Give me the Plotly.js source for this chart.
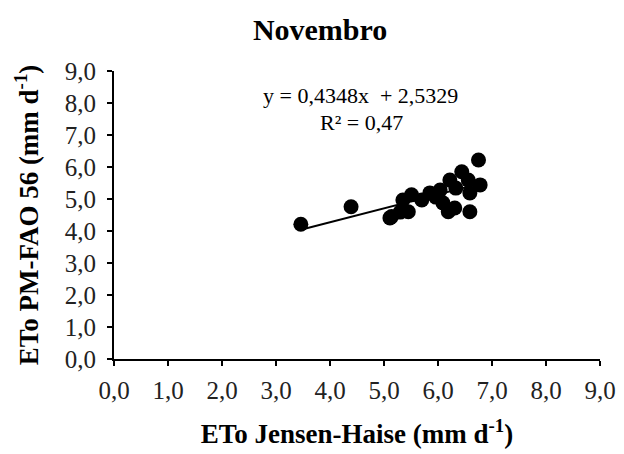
<!DOCTYPE html>
<html>
<head>
<meta charset="utf-8">
<script src="https://cdn.plot.ly/plotly-3.0.1.min.js"></script>
<style>
  html, body { margin: 0; padding: 0; background: #fff; }
  #chart { width: 624px; height: 454px; }
</style>
</head>
<body>
<div id="chart"></div>
<script>
// Daily ETo, November: Jensen-Haise (x) vs PM-FAO 56 (y), mm/day
const etoJensenHaise = [3.46, 4.39, 5.14, 5.11, 5.30, 5.45, 5.35, 5.51, 5.70, 5.85, 5.96,
                        6.04, 6.09, 6.19, 6.31, 6.22, 6.44, 6.56, 6.78, 6.59, 6.59, 6.75, 6.33];
const etoPmFao56     = [4.21, 4.76, 4.45, 4.41, 4.59, 4.60, 4.97, 5.13, 4.97, 5.19, 5.06,
                        5.28, 4.88, 4.60, 4.72, 5.59, 5.85, 5.59, 5.44, 5.19, 4.60, 6.22, 5.34];

// Linear trend line as printed on the chart
const slope = 0.4348;
const intercept = 2.5329;
const rSquared = 0.47;

const tickVals = [0, 1, 2, 3, 4, 5, 6, 7, 8, 9];

const xMin = Math.min(...etoJensenHaise);
const xMax = Math.max(...etoJensenHaise);
const trendX = [xMin, xMax];
const trendY = trendX.map(v => slope * v + intercept);

const fmt = (v, d) => v.toFixed(d).replace('.', ',');

const serif = 'Liberation Serif, Times New Roman, serif';

const traces = [
  {
    x: trendX, y: trendY,
    type: 'scatter', mode: 'lines',
    line: { color: '#000', width: 2 },
    hoverinfo: 'skip', showlegend: false
  },
  {
    x: etoJensenHaise, y: etoPmFao56,
    type: 'scatter', mode: 'markers',
    marker: { color: '#000', size: 15, line: { width: 0 } },
    showlegend: false
  }
];

const axisCommon = {
  range: [0, 9],
  tickvals: tickVals,
  ticktext: tickVals.map(v => fmt(v, 1)),
  ticks: 'outside', ticklen: 5, tickwidth: 2, tickcolor: '#000',
  showline: true, linecolor: '#000', linewidth: 2,
  showgrid: false, zeroline: false,
  tickfont: { family: serif, size: 25, color: '#222' },
  fixedrange: true
};

const layout = {
  width: 624, height: 454,
  margin: { l: 114, r: 24, t: 71, b: 95 },
  paper_bgcolor: '#fff', plot_bgcolor: '#fff',
  font: { family: serif, color: '#000' },
  title: {
    text: '<b>Novembro</b>',
    font: { family: serif, size: 30, color: '#000' },
    x: 0.513, xanchor: 'center', y: 0.934, yanchor: 'middle'
  },
  xaxis: Object.assign({}, axisCommon, {
    ticklabelstandoff: 3,
    title: {
      text: '<b>ETo Jensen-Haise (mm d<sup>-1</sup>)</b>',
      font: { family: serif, size: 27, color: '#000' },
      standoff: 21
    }
  }),
  yaxis: Object.assign({}, axisCommon, {
    ticklabelstandoff: 6,
    title: {
      text: '<b>ETo PM-FAO 56 (mm d<sup>-1</sup>)</b>',
      font: { family: serif, size: 27, color: '#000' },
      standoff: 18
    }
  }),
  annotations: [
    {
      xref: 'x', yref: 'y', x: 4.57, y: 8.25,
      text: 'y = ' + fmt(slope, 4) + 'x  + ' + fmt(intercept, 4),
      showarrow: false,
      font: { family: serif, size: 22, color: '#000' }
    },
    {
      xref: 'x', yref: 'y', x: 4.59, y: 7.4,
      text: 'R² = ' + fmt(rSquared, 2),
      showarrow: false,
      font: { family: serif, size: 22, color: '#000' }
    }
  ]
};

Plotly.newPlot('chart', traces, layout, { displayModeBar: false, staticPlot: true });
</script>
</body>
</html>
